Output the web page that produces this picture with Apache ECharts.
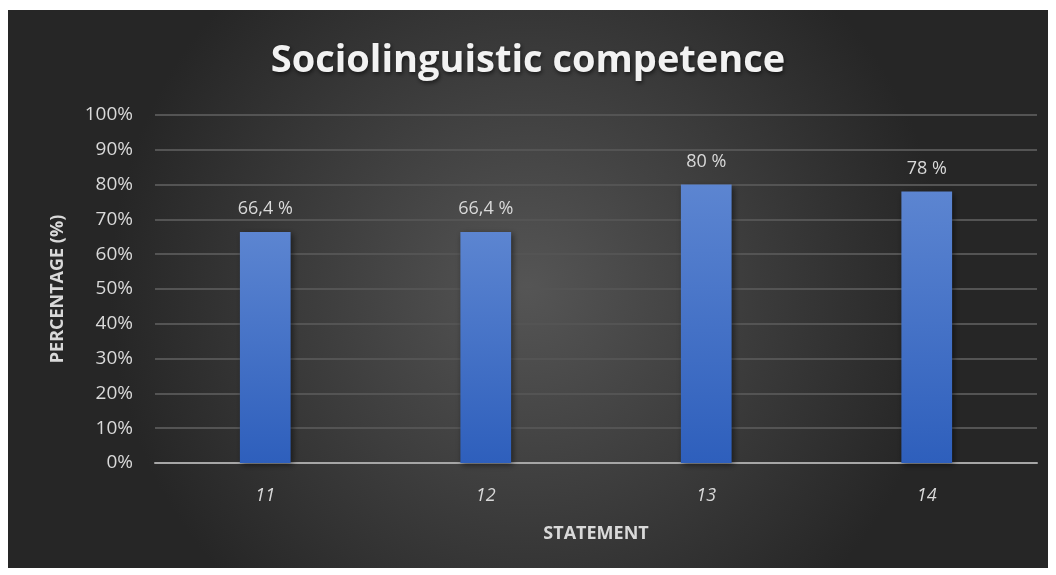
<html>
<head>
<meta charset="utf-8">
<script src="https://cdn.jsdelivr.net/npm/echarts@6/dist/echarts.min.js"></script>
<style>
  body { margin:0; background:#fff; }
  #main { position:absolute; left:8px; top:10px; width:1040px; height:558px; }
</style>
</head>
<body>
<div id="main"></div>
<script>
// 数据
var statements = ['11', '12', '13', '14'];
var percentages = [66.4, 66.4, 80, 78];
var yTicks = [0, 10, 20, 30, 40, 50, 60, 70, 80, 90, 100];

var chart = echarts.init(document.getElementById('main'));
var fontFam = '"Open Sans", "Liberation Sans", sans-serif';

chart.setOption({
  backgroundColor: {
    type: 'radial', x: 0.5, y: 0.5, r: 0.75,
    colorStops: [{offset: 0, color: '#555555'}, {offset: 1, color: '#262626'}]
  },
  title: {
    text: 'Sociolinguistic competence',
    left: 'center', top: 27,
    textStyle: {
      color: '#f2f2f2', fontSize: 38, fontWeight: 'bold', fontFamily: fontFam,
      textShadowColor: 'rgba(0,0,0,0.6)', textShadowBlur: 4, textShadowOffsetX: 1, textShadowOffsetY: 2
    }
  },
  grid: { left: 147, right: 11, top: 105, bottom: 105 },
  xAxis: {
    type: 'category',
    data: statements,
    name: 'STATEMENT',
    nameLocation: 'middle',
    nameGap: 62,
    nameTextStyle: { color: '#d9d9d9', fontSize: 18, fontWeight: 'bold', fontFamily: fontFam },
    axisLine: { lineStyle: { color: '#a6a6a6', width: 2 } },
    axisTick: { show: false },
    axisLabel: { color: '#d9d9d9', fontSize: 18, fontStyle: 'italic', fontFamily: fontFam, margin: 24 }
  },
  yAxis: {
    type: 'value',
    min: 0, max: 100, interval: 10,
    name: 'PERCENTAGE (%)',
    nameLocation: 'middle',
    nameGap: 88,
    nameTextStyle: { color: '#d9d9d9', fontSize: 18, fontWeight: 'bold', fontFamily: fontFam },
    axisLine: { show: false },
    axisTick: { show: false },
    axisLabel: {
      color: '#d9d9d9', fontSize: 19, fontFamily: fontFam, margin: 22,
      formatter: function (v) { return yTicks.indexOf(v) >= 0 ? v + '%' : ''; }
    },
    splitLine: { lineStyle: { color: '#545454', width: 2 } }
  },
  series: [{
    type: 'bar',
    data: percentages,
    barWidth: '23%',
    itemStyle: {
      color: {
        type: 'linear', x: 0, y: 0, x2: 0, y2: 1,
        colorStops: [{offset: 0, color: '#5c85d1'}, {offset: 1, color: '#2e5fbc'}]
      },
      shadowColor: 'rgba(0,0,0,0.5)', shadowBlur: 6, shadowOffsetX: 2, shadowOffsetY: 2
    },
    label: {
      show: true, position: 'top', distance: 14,
      color: '#d9d9d9', fontSize: 18, fontFamily: fontFam,
      formatter: function (p) { return String(p.value).replace('.', ',') + ' %'; }
    }
  }]
});
</script>
</body>
</html>
